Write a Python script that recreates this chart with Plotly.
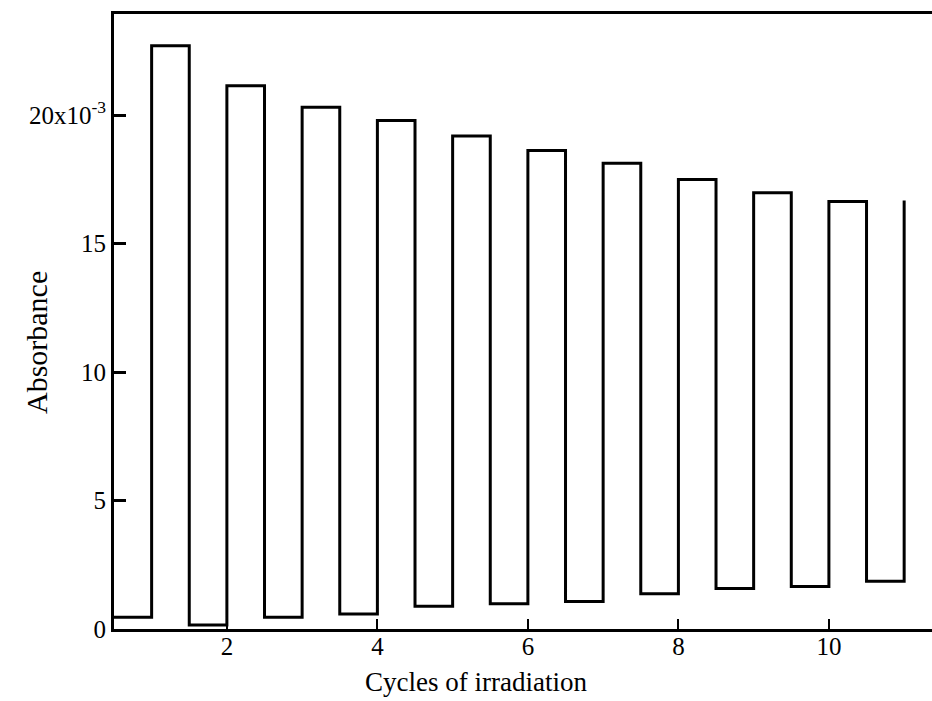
import plotly.graph_objects as go

# Step edges (cycle boundaries) and absorbance levels (x10^-3)
edges = [0.5, 1.0, 1.5, 2.0, 2.5, 3.0, 3.5, 4.0, 4.5, 5.0, 5.5,
         6.0, 6.5, 7.0, 7.5, 8.0, 8.5, 9.0, 9.5, 10.0, 10.5, 11.0]
lows = [0.46, 0.16, 0.46, 0.58, 0.89, 0.98, 1.07, 1.37, 1.58, 1.65, 1.86]
highs = [22.69, 21.14, 20.30, 19.79, 19.18, 18.62, 18.12, 17.49, 16.97, 16.63, 16.67]

xticks = [2, 4, 6, 8, 10]
yticks = [0, 5, 10, 15, 20]
yticklabels = ["0", "5", "10", "15", "20x10<sup>-3</sup>"]

yvals = []
for lo, hi in zip(lows, highs):
    yvals += [lo, hi]

FONT = "Liberation Serif, Times New Roman, serif"

fig = go.Figure()
fig.add_trace(go.Scatter(x=edges, y=yvals, mode="lines", line_shape="hv",
                         line=dict(color="black", width=3), showlegend=False))

fig.update_layout(
    width=932, height=701,
    margin=dict(l=114, r=0, t=14, b=72),
    paper_bgcolor="white", plot_bgcolor="white",
    font=dict(family=FONT, size=24, color="black"),
    xaxis=dict(range=[0.5, 11.37], tickvals=xticks, ticks="inside", ticklen=10,
               tickwidth=2, tickcolor="black", showline=True, linewidth=3,
               linecolor="black", mirror=True, showgrid=False, zeroline=False,
               tickfont=dict(size=25), ticklabelstandoff=-7),
    yaxis=dict(range=[0, 23.93], tickvals=yticks, ticktext=yticklabels,
               ticks="inside", ticklen=12, tickwidth=3, tickcolor="black",
               showline=True, linewidth=3, linecolor="black", showgrid=False,
               zeroline=False, tickfont=dict(size=25)),
    annotations=[
        dict(text="Cycles of irradiation", xref="paper", yref="paper",
             x=0.443, y=0, yshift=-53, showarrow=False, yanchor="middle",
             font=dict(size=27)),
        dict(text="Absorbance", xref="paper", yref="paper", x=0, xshift=-78,
             y=0.465, showarrow=False, textangle=-90, xanchor="center",
             yanchor="middle", font=dict(size=30)),
    ],
)

fig.write_html("out.html")
